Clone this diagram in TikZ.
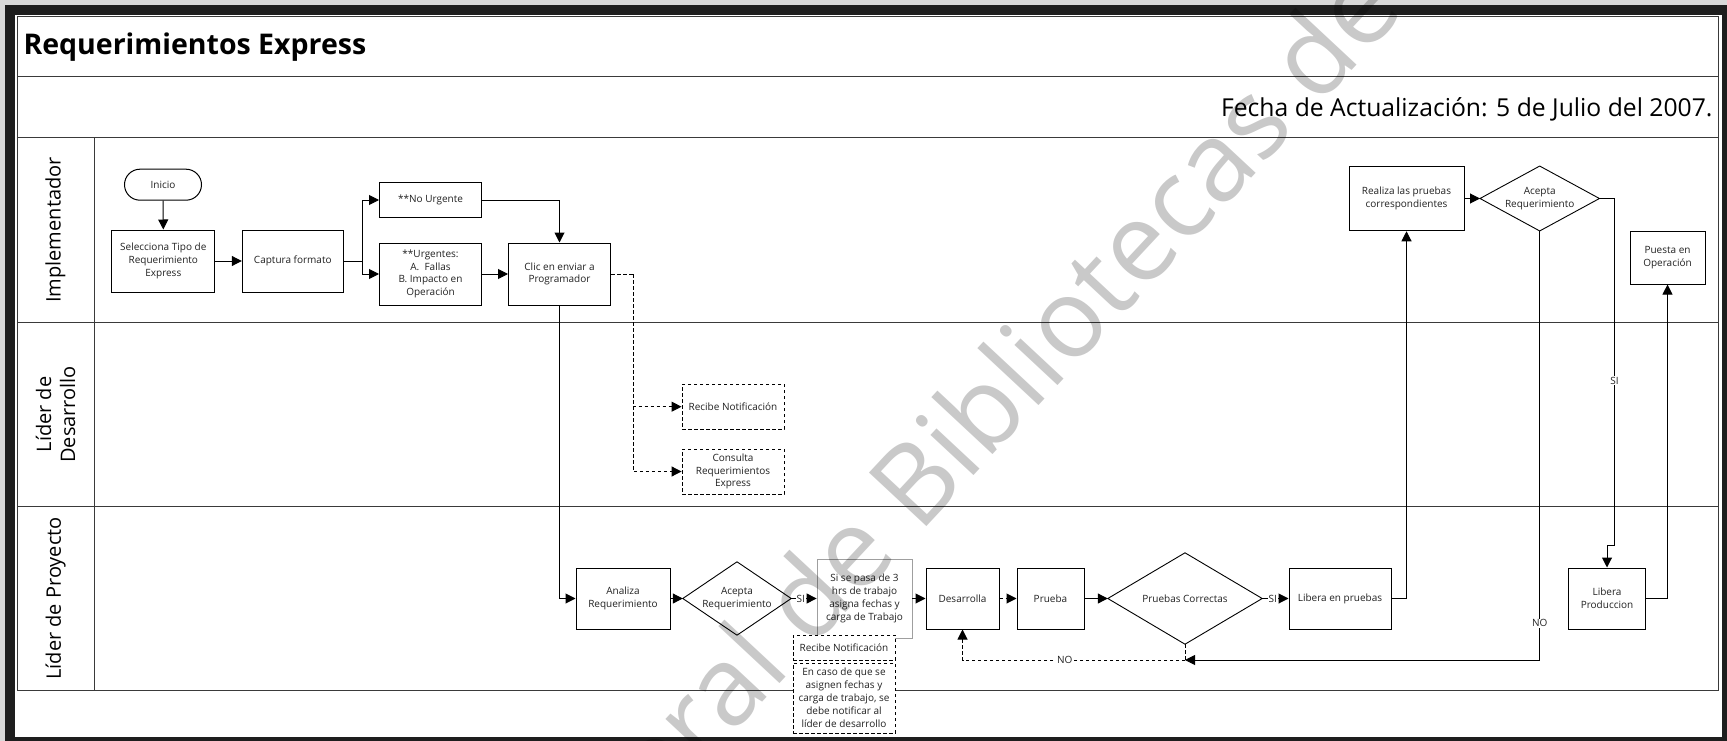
\documentclass[tikz,border=0pt]{standalone}
\usepackage{fontspec}
\setmainfont{Open Sans}
\usetikzlibrary{arrows.meta}

\definecolor{framedark}{HTML}{1E1E1E}
\definecolor{lanegray}{HTML}{3A3A3A}
\definecolor{ink}{HTML}{222222}

\begin{document}
\begin{tikzpicture}[x=1pt,y=-1pt,
  font=\fontsize{10}{12.7}\selectfont,
  proc/.style={draw=black, line width=1pt, fill=white, align=center, inner sep=1pt, text=ink},
  note/.style={proc, dash pattern=on 3.5pt off 2.5pt, line width=0.9pt},
  decision/.style={rectangle, align=center, inner sep=0pt, text=ink},
  plain/.style={draw=black, line width=1pt},
  flow/.style={plain, -{Triangle[length=10pt,width=10pt]}},
  link/.style={flow, dash pattern=on 3.5pt off 2.5pt},
  linkline/.style={plain, dash pattern=on 3.5pt off 2.5pt},
  tag/.style={fill=white, inner sep=0.8pt, text=ink},
  lane/.style={draw=lanegray, line width=1pt},
  lanelabel/.style={rotate=90, align=center, font=\fontsize{20}{24}\selectfont, text=black},
]
\useasboundingbox (0,0) rectangle (1727,741);
\clip (0,0) rectangle (1727,741);

% outer frame
\fill[gray!30] (0,0) rectangle (1727,741);
\fill[framedark] (5,5) rectangle (1727,741);
\fill[white] (15,15) rectangle (1722,737);

% header bands and swimlanes
\draw[lane] (17,17) rectangle (1718,690.5);
\draw[lane] (17,77) -- (1718,77);
\draw[lane] (17,138) -- (1718,138);
\draw[lane] (17,322.5) -- (1718,322.5);
\draw[lane] (17,506.3) -- (1718,506.3);
\draw[lane] (94.3,138) -- (94.3,690.5);

\node[anchor=base west, font=\fontsize{28.5}{34}\bfseries\selectfont, text=black] (title) at (20,55) {Requerimientos Express};
\node[anchor=base east, font=\fontsize{24.7}{30}\selectfont, text=black] (fecha) at (1716,116.5) {Fecha de Actualización: 5 de Julio del 2007.};

\node[lanelabel] (laneA) at (55.5,230) {Implementador};
\node[lanelabel] (laneB) at (55.5,414.4) {Líder de\\Desarrollo};
\node[lanelabel] (laneC) at (55.5,598.4) {Líder de Proyecto};

% Implementador
\node[proc, rounded corners=15.5pt, minimum width=77pt, minimum height=31pt] (ini) at (163,184.7) {Inicio};
\node[proc, minimum width=103pt, minimum height=62pt] (sel) at (163.3,261) {Selecciona Tipo de\\Requerimiento\\Express};
\node[proc, minimum width=101pt, minimum height=62pt] (cap) at (292.8,261) {Captura formato};
\node[proc, minimum width=102pt, minimum height=35pt] (nourg) at (430.5,200) {**No Urgente};
\node[proc, minimum width=102pt, minimum height=62pt] (urg) at (430.5,274) {**Urgentes:\\A.~~Fallas\\B. Impacto en\\Operación};
\node[proc, minimum width=102pt, minimum height=62pt] (clic) at (559.5,274) {Clic en enviar a\\Programador};
\node[proc, minimum width=115pt, minimum height=64.5pt] (real) at (1406.5,198.5) {Realiza las pruebas\\correspondientes};
\node[decision, minimum width=119pt, minimum height=64.5pt] (acep2) at (1539.7,198.5) {Acepta\\Requerimiento};
\node[proc, minimum width=75pt, minimum height=52.5pt] (puesta) at (1667.5,257.8) {Puesta en\\Operación};

% Lider de Desarrollo
\node[note, minimum width=102pt, minimum height=45pt] (rn1) at (733,406.7) {Recibe Notificación};
\node[note, minimum width=102pt, minimum height=45pt] (cons) at (733,471.5) {Consulta\\Requerimientos\\Express};

% Lider de Proyecto
\node[proc, minimum width=94pt, minimum height=61pt] (ana) at (623,598.5) {Analiza\\Requerimiento};
\node[decision, minimum width=108pt, minimum height=73pt] (acep1) at (737,598.5) {Acepta\\Requerimiento};
\node[proc, draw=gray!75, line width=0.8pt, minimum width=95pt, minimum height=79pt, font=\fontsize{10}{13}\selectfont] (asig) at (864.5,598.5) {Si se pasa de 3\\hrs de trabajo\\asigna fechas y\\carga de Trabajo};
\node[note, minimum width=102pt, minimum height=25pt] (rn2) at (844,647.5) {Recibe Notificación};
\node[note, minimum width=102pt, minimum height=70pt, font=\fontsize{10}{13}\selectfont] (aviso) at (844,698) {En caso de que se\\asignen fechas y\\carga de trabajo, se\\debe notificar al\\líder de desarrollo};
\node[proc, minimum width=73pt, minimum height=61pt] (des) at (962.5,598.5) {Desarrolla};
\node[proc, minimum width=67pt, minimum height=61pt] (pru) at (1050.5,598.5) {Prueba};
\node[decision, minimum width=154pt, minimum height=91pt] (pc) at (1185,598.5) {Pruebas Correctas};
\node[proc, minimum width=102pt, minimum height=61pt] (lp) at (1340,598.5) {Libera en pruebas};
\node[proc, minimum width=77pt, minimum height=61pt] (lprod) at (1607,598.5) {Libera\\Produccion};

% decision outlines
\foreach \d in {acep1,pc,acep2}
  \draw[black, line width=0.9pt] (\d.north) -- (\d.east) -- (\d.south) -- (\d.west) -- cycle;

% bend points
\coordinate (capfork) at (362.7,261);
\coordinate (notefork) at (633.3,274);
\coordinate (nojoin) at (1185,660);
\coordinate (sibend) at (1614.5,545);

% connectors
\draw[flow] (ini.south) -- (sel.north);
\draw[flow] (sel.east) -- (cap.west);
\draw[plain] (cap.east) -- (capfork);
\draw[flow] (capfork) |- (nourg.west);
\draw[flow] (capfork) |- (urg.west);
\draw[flow] (nourg.east) -| (clic.north);
\draw[flow] (urg.east) -- (clic.west);
\draw[linkline] (clic.east) -- (notefork);
\draw[link] (notefork) |- (rn1.west);
\draw[link] (notefork) |- (cons.west);
\draw[flow] (clic.south) |- (ana.west);
\draw[flow] (ana.east) -- (acep1.west);
\draw[flow] (acep1.east) -- node[tag, pos=0.38] {SI} (asig.west);
\draw[flow] (asig.east) -- (des.west);
\draw[link] (des.east) -- (pru.west);
\draw[flow] (pru.east) -- (pc.west);
\draw[flow] (pc.east) -- node[tag, pos=0.4] {SI} (lp.west);
\draw[linkline] (pc.south) -- (nojoin);
\draw[link] (nojoin) -| node[tag, pos=0.27] {NO} (des.south);
\draw[flow] (lp.east) -| (real.south);
\draw[flow] (real.east) -- (acep2.west);
\draw[plain] (acep2.east) -| node[tag, pos=0.763] {SI} (sibend);
\draw[flow] (sibend) -| (lprod.north);
\draw[flow] (acep2.south) |- node[tag, pos=0.457] {NO} (nojoin);
\draw[flow] (lprod.east) -| (puesta.south);

% watermark
\node[rotate=47, anchor=base west, font=\fontsize{110}{110}\selectfont, text=black, opacity=0.21, inner sep=0pt] (marca) at (660,812) {eral de Bibliotecas de};
\end{tikzpicture}
\end{document}
